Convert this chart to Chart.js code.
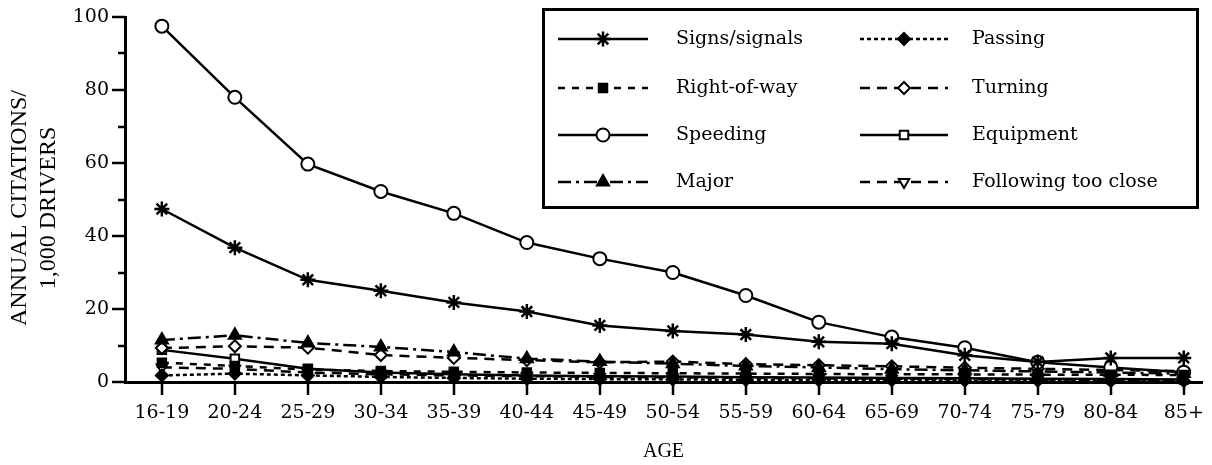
<!DOCTYPE html>
<html lang="en">
<head>
<meta charset="UTF-8">
<title>Annual citations per 1,000 drivers by age</title>
<script src="https://cdn.jsdelivr.net/npm/chart.js"></script>
<style>
  html, body { margin: 0; padding: 0; background: #fff; }
</style>
</head>
<body>
<canvas id="chart" width="1212" height="465"></canvas>
<script>
// data (citations per 1,000 drivers)
const ageGroups = ['16-19', '20-24', '25-29', '30-34', '35-39', '40-44', '45-49', '50-54',
                   '55-59', '60-64', '65-69', '70-74', '75-79', '80-84', '85+'];
const signsSignals = [47.4, 36.8, 28, 25, 21.8, 19.3, 15.5, 14, 13, 11, 10.5, 7.3, 5.5, 6.6, 6.6];
const rightOfWay   = [5.3, 4.4, 3.4, 3, 2.8, 2.6, 2.5, 2.4, 2.3, 2.2, 2.1, 2.1, 2, 2, 1.9];
const speeding     = [97.5, 78, 59.7, 52.2, 46.2, 38.2, 33.8, 30, 23.7, 16.4, 12.3, 9.4, 5.4, 4, 2.7];
const major        = [11.5, 12.8, 10.7, 9.6, 8.2, 6.4, 5.6, 5, 4.4, 4, 3.5, 3.2, 2.9, 2.6, 2.3];
const passing      = [1.8, 2.3, 1.8, 1.4, 1.1, 0.9, 0.8, 0.7, 0.6, 0.5, 0.5, 0.4, 0.4, 0.3, 0.3];
const turning      = [9.3, 9.8, 9.4, 7.4, 6.6, 6, 5.4, 5.6, 4.9, 4.6, 4.3, 3.9, 3.6, 3.3, 3];
const equipment    = [8.8, 6.4, 3.6, 2.6, 2.1, 1.8, 1.6, 1.5, 1.3, 1.2, 1.1, 1, 0.9, 0.8, 0.7];
const following    = [4, 3.6, 2.6, 2.1, 1.8, 1.6, 1.4, 1.3, 1.1, 1, 0.9, 0.8, 0.7, 0.6, 0.6];
const yTicks = [0, 10, 20, 30, 40, 50, 60, 70, 80, 90, 100];

const tickFont = { family: 'DejaVu Serif', size: 19 };
const titleFamily = '"Liberation Serif"';

const toPoints = arr => arr.map((v, i) => ({ x: i, y: v }));

function series(label, values, opts) {
    return Object.assign({
        label: label,
        data: toPoints(values),
        borderColor: '#000',
        borderWidth: 2.5,
        borderDash: [],
        fill: false,
        tension: 0,
        clip: false,
        pointRadius: 6,
        pointBorderWidth: 2,
        pointBorderColor: '#000',
        pointBackgroundColor: '#000',
        pointRotation: 0
    }, opts);
}

const datasets = [
    series('Signs/signals', signsSignals, { pointStyle: 'star', pointRadius: 7.5, pointBorderWidth: 2.5 }),
    series('Right-of-way', rightOfWay, { pointStyle: 'rect', borderDash: [7, 7] }),
    series('Speeding', speeding, { pointStyle: 'circle', pointBackgroundColor: '#fff', pointRadius: 6.5 }),
    series('Major', major, { pointStyle: 'triangle', borderDash: [13, 5, 3, 5], pointRadius: 7 }),
    series('Passing', passing, { pointStyle: 'rectRot', borderDash: [4, 3] }),
    series('Turning', turning, { pointStyle: 'rectRot', pointBackgroundColor: '#fff', borderDash: [10, 7] }),
    series('Equipment', equipment, { pointStyle: 'rect', pointBackgroundColor: '#fff' }),
    series('Following too close', following, { pointStyle: 'triangle', pointRotation: 180,
        pointBackgroundColor: '#fff', borderDash: [10, 7] })
];

// tick marks, y title and the boxed legend
const decor = {
    id: 'decor',
    afterDraw(chart) {
        const ctx = chart.ctx;
        const area = chart.chartArea;
        const xs = chart.scales.x, ys = chart.scales.y;
        ctx.save();
        ctx.strokeStyle = '#000';
        ctx.fillStyle = '#000';
        ctx.lineWidth = 2.5;
        ctx.setLineDash([]);
        yTicks.forEach(v => {
            const py = Math.round(ys.getPixelForValue(v));
            const len = v % 20 === 0 ? 13 : 7;
            ctx.beginPath();
            ctx.moveTo(area.left - len, py);
            ctx.lineTo(area.left, py);
            ctx.stroke();
        });
        ageGroups.forEach((g, i) => {
            const px = Math.round(xs.getPixelForValue(i));
            ctx.beginPath();
            ctx.moveTo(px, area.bottom);
            ctx.lineTo(px, area.bottom + 13);
            ctx.stroke();
        });

        // y axis title, two lines
        ctx.save();
        ctx.translate(0, 208);
        ctx.rotate(-Math.PI / 2);
        ctx.font = '24px ' + titleFamily;
        ctx.textAlign = 'center';
        ctx.textBaseline = 'middle';
        ctx.fillText('ANNUAL CITATIONS/', 0, 20);
        ctx.fillText('1,000 DRIVERS', 0, 49);
        ctx.restore();

        // legend box
        ctx.lineWidth = 3;
        ctx.strokeRect(543.5, 9.5, 654, 198);
        const cols = [{ x0: 558, x1: 648, tx: 676 }, { x0: 860, x1: 948, tx: 972 }];
        const rows = [39, 88, 135, 182];
        ctx.font = '19px "DejaVu Serif"';
        ctx.textAlign = 'left';
        ctx.textBaseline = 'middle';
        chart.data.datasets.forEach((ds, i) => {
            const c = cols[Math.floor(i / 4)];
            const y = rows[i % 4];
            ctx.lineWidth = ds.borderWidth;
            ctx.setLineDash(ds.borderDash);
            ctx.beginPath();
            ctx.moveTo(c.x0, y);
            ctx.lineTo(c.x1, y);
            ctx.stroke();
            ctx.setLineDash([]);
            ctx.fillStyle = ds.pointBackgroundColor;
            ctx.strokeStyle = '#000';
            ctx.lineWidth = ds.pointBorderWidth;
            Chart.helpers.drawPoint(ctx, {
                pointStyle: ds.pointStyle,
                rotation: ds.pointRotation,
                radius: ds.pointRadius,
                borderWidth: ds.pointBorderWidth
            }, (c.x0 + c.x1) / 2, y);
            ctx.fillStyle = '#000';
            ctx.fillText(ds.label, c.tx, y);
        });
        ctx.restore();
    }
};

new Chart(document.getElementById('chart'), {
    type: 'line',
    data: { datasets: datasets },
    options: {
        responsive: false,
        animation: false,
        layout: { padding: { top: 17, right: 7, left: 0, bottom: 0 } },
        plugins: { legend: { display: false }, tooltip: { enabled: false } },
        scales: {
            x: {
                type: 'linear',
                min: -0.505,
                max: 14.25,
                afterFit: s => { s.height = 83; },
                afterBuildTicks: s => { s.ticks = ageGroups.map((g, i) => ({ value: i })); },
                ticks: {
                    callback: v => ageGroups[v],
                    font: tickFont,
                    color: '#000',
                    padding: 8,
                    autoSkip: false,
                    maxRotation: 0
                },
                grid: { display: false, tickLength: 12 },
                border: { display: true, color: '#000', width: 3 },
                title: {
                    display: true,
                    text: 'AGE',
                    color: '#000',
                    font: { family: 'Liberation Serif', size: 20 },
                    padding: { top: 0, bottom: 1 }
                }
            },
            y: {
                min: 0,
                max: 100,
                afterFit: s => { s.width = 125; },
                afterBuildTicks: s => { s.ticks = yTicks.map(v => ({ value: v })); },
                ticks: {
                    callback: v => (v % 20 === 0 ? v : ''),
                    font: tickFont,
                    color: '#000',
                    padding: 4
                },
                grid: { display: false, tickLength: 12 },
                border: { display: true, color: '#000', width: 3 }
            }
        }
    },
    plugins: [decor]
});
</script>
</body>
</html>
